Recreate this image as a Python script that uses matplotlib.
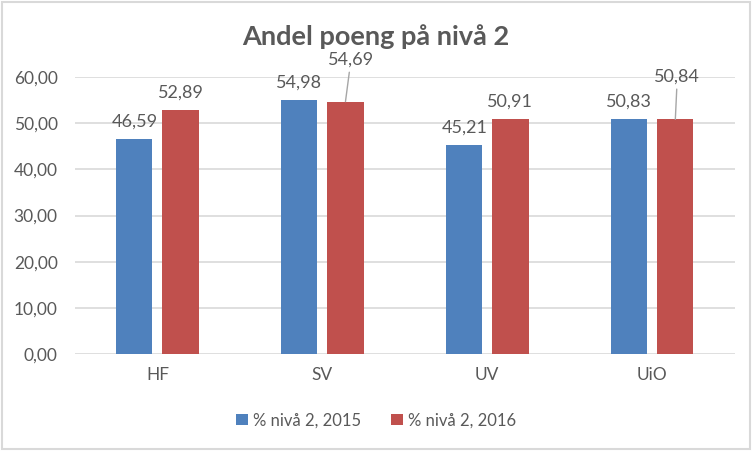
import matplotlib.pyplot as plt
from matplotlib.patches import Rectangle
import numpy as np

plt.rcParams['font.family'] = ['Lato', 'DejaVu Sans']

categories = ["HF", "SV", "UV", "UiO"]
vals_2015 = [46.59, 54.98, 45.21, 50.83]
vals_2016 = [52.89, 54.69, 50.91, 50.84]
series_names = ["% nivå 2, 2015", "% nivå 2, 2016"]
title = "Andel poeng på nivå 2"

BLUE = "#4F81BD"
RED = "#C0504D"
TXT = "#595959"
GRID = "#D9D9D9"


def fmt(v):
    return f"{v:.2f}".replace(".", ",")


fig = plt.figure(figsize=(7.52, 4.51), dpi=100)
ax = fig.add_axes([0.0997, 0.215, 0.8773, 0.614])

x = np.arange(len(categories))
w = 0.22
off = 0.14
ax.bar(x - off, vals_2015, w, color=BLUE, label=series_names[0], zorder=3)
ax.bar(x + off, vals_2016, w, color=RED, label=series_names[1], zorder=3)

ax.set_xlim(-0.5, 3.5)
ax.set_ylim(0, 60)
ax.set_yticks(np.arange(0, 61, 10))
ax.set_yticklabels([fmt(t) for t in np.arange(0, 61, 10)])
ax.set_xticks(x)
ax.set_xticklabels(categories)
ax.tick_params(axis="both", length=0, labelsize=12.5, colors=TXT)
ax.tick_params(axis="y", pad=12.5)
ax.tick_params(axis="x", pad=9)
ax.grid(axis="y", color=GRID, linewidth=1.2, zorder=0)
for s in ax.spines.values():
    s.set_visible(False)

# data labels, two of them moved up with a leader line
leader = {(1, 1): (0.033, 9.0), (3, 1): (0.012, 9.2)}
for j, (vals, xs) in enumerate([(vals_2015, x - off), (vals_2016, x + off)]):
    for i, v in enumerate(vals):
        if (i, j) in leader:
            dx, dy = leader[(i, j)]
            ax.annotate(fmt(v), xy=(xs[i], v), xytext=(xs[i] + dx, v + dy),
                        ha="center", va="center", fontsize=13, color=TXT,
                        annotation_clip=False,
                        arrowprops=dict(arrowstyle="-", color="#A6A6A6", lw=1,
                                        shrinkA=1, shrinkB=0))
        else:
            ax.annotate(fmt(v), xy=(xs[i], v), xytext=(0, 7),
                        textcoords="offset points", ha="center", va="bottom",
                        fontsize=13, color=TXT)

fig.text(0.5, 0.918, title, ha="center", va="center", fontsize=19.5,
         fontweight="bold", color=TXT)

leg = fig.legend(loc="center", bbox_to_anchor=(0.5, 0.068), ncol=2, frameon=False,
                 fontsize=12, handlelength=0.7, handleheight=0.7,
                 handletextpad=0.3, columnspacing=1.8)
for t in leg.get_texts():
    t.set_color(TXT)

fig.patches.append(Rectangle((0.003, 0.005), 0.994, 0.99, transform=fig.transFigure,
                             fill=False, edgecolor=GRID, linewidth=1.5))

fig.savefig("out.png", dpi=100)
